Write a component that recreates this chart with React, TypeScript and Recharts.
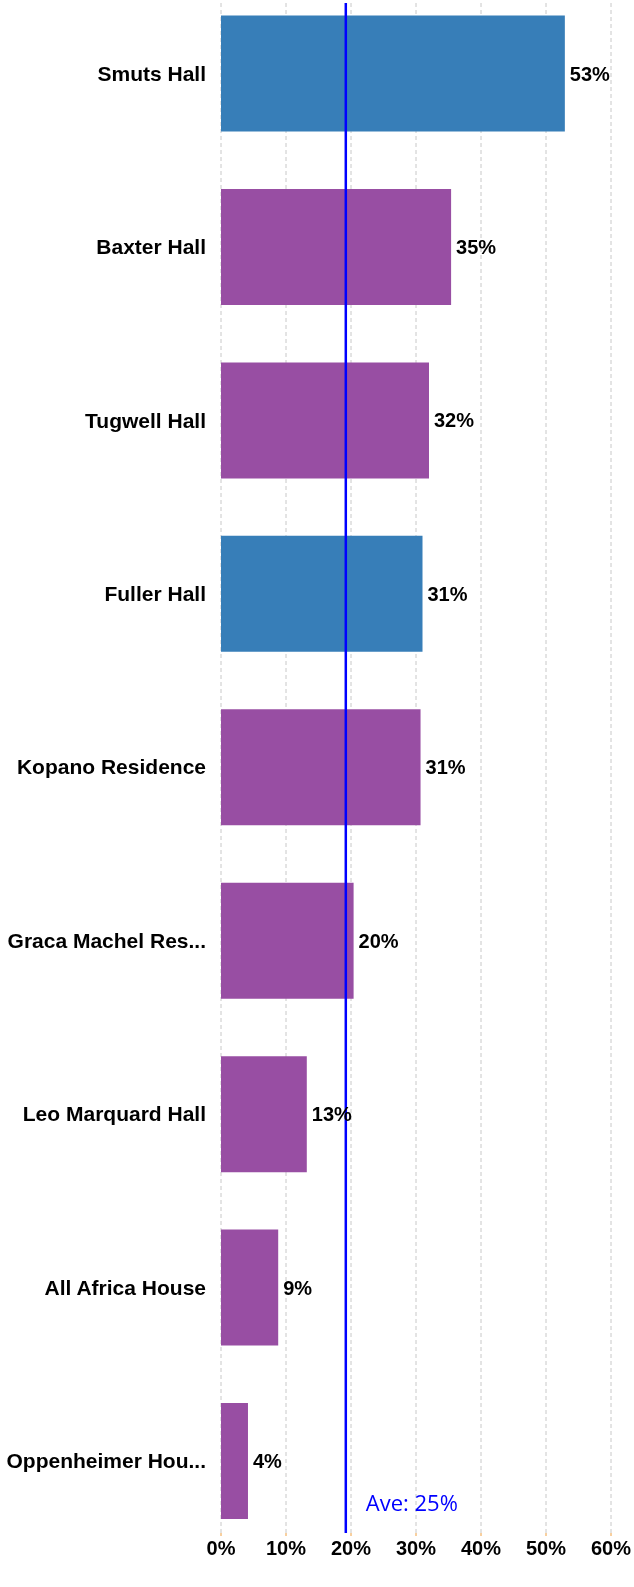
import { BarChart, Bar, XAxis, YAxis, CartesianGrid, ReferenceLine, LabelList, Cell } from 'recharts';

const residences = [
  'Smuts Hall',
  'Baxter Hall',
  'Tugwell Hall',
  'Fuller Hall',
  'Kopano Residence',
  'Graca Machel Res...',
  'Leo Marquard Hall',
  'All Africa House',
  'Oppenheimer Hou...',
];
const shares = [52.9, 35.4, 32.0, 31.0, 30.7, 20.4, 13.2, 8.8, 4.15];
const highlighted = ['Smuts Hall', 'Fuller Hall'];
const xTicks = [0, 10, 20, 30, 40, 50, 60];
const averageAt = 19.2;
const averageLabel = 'Ave: 25%';

const data = residences.map((name, i) => ({ name, value: shares[i] }));

const BLUE = '#377eb8';
const PURPLE = '#984ea3';
const FONT = "'Liberation Sans', Arial, sans-serif";

function AveLabel(props: any) {
  const vb = props.viewBox || {};
  return (
    <text
      x={vb.x + 20}
      y={vb.y + vb.height - 22}
      fill="#0000ff"
      fontFamily="'Open Sans', sans-serif"
      fontSize={22}
    >
      {averageLabel}
    </text>
  );
}

export default function App() {
  return (
    <div style={{ position: 'fixed', top: 0, left: 0 }}>
      <BarChart
        width={634}
        height={1587}
        data={data}
        layout="vertical"
        margin={{ top: 3, right: 23, bottom: 24, left: 0 }}
      >
        <CartesianGrid horizontal={false} stroke="#c8c8c8" strokeDasharray="4 3" />
        <XAxis
          type="number"
          domain={[0, 60]}
          ticks={xTicks}
          tickFormatter={(v) => `${v}%`}
          axisLine={false}
          tickLine={{ stroke: '#f0a040' }}
          tickSize={3}
          tickMargin={5}
          height={30}
          tick={{ fill: '#000', fontSize: 20, fontWeight: 'bold', fontFamily: FONT }}
        />
        <YAxis
          type="category"
          dataKey="name"
          width={221}
          axisLine={false}
          tickLine={false}
          tickSize={0}
          tickMargin={15}
          padding={{ top: -16.5, bottom: -14.5 }}
          tick={{ fill: '#000', fontSize: 21, fontWeight: 'bold', fontFamily: FONT }}
        />
        <Bar dataKey="value" barSize={116} isAnimationActive={false}>
          {data.map((d, i) => (
            <Cell key={`cell-${i}`} fill={highlighted.includes(d.name) ? BLUE : PURPLE} />
          ))}
          <LabelList
            dataKey="value"
            position="right"
            offset={5}
            formatter={(v: any) => `${Math.round(v)}%`}
            fill="#000"
            fontSize={20}
            fontWeight="bold"
            fontFamily={FONT}
          />
        </Bar>
        <ReferenceLine x={averageAt} stroke="#0000ff" strokeWidth={2.5} label={<AveLabel />} />
      </BarChart>
    </div>
  );
}
